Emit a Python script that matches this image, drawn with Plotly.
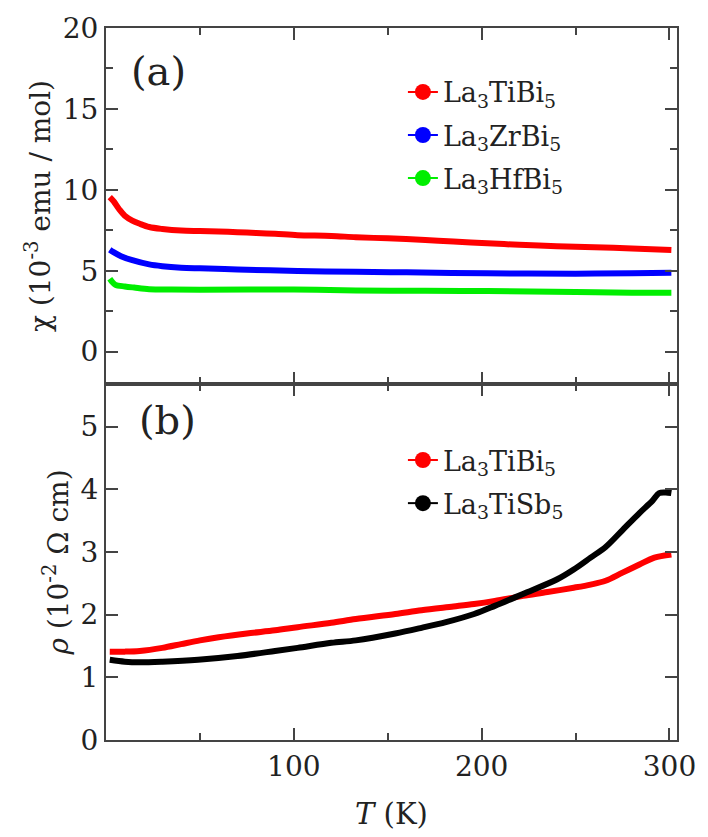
import plotly.graph_objects as go
from plotly.subplots import make_subplots

# ---- data ----
T_chi_Ti = [2, 4, 7, 10, 14, 18, 23, 30, 40, 50, 60, 70, 80, 90, 102, 120, 133, 150, 170, 185, 203, 220, 240, 260, 280, 301]
chi_Ti = [9.55, 9.3, 8.8, 8.4, 8.1, 7.9, 7.7, 7.58, 7.48, 7.45, 7.42, 7.38, 7.33, 7.28, 7.2, 7.15, 7.07, 7.0, 6.9, 6.8, 6.7, 6.6, 6.52, 6.45, 6.38, 6.28]

T_chi_Zr = [2, 4, 8, 14, 23, 30, 40, 50, 70, 102, 133, 160, 203, 250, 280, 301]
chi_Zr = [6.3, 6.15, 5.9, 5.65, 5.39, 5.28, 5.19, 5.15, 5.08, 4.98, 4.93, 4.9, 4.84, 4.82, 4.85, 4.88]

T_chi_Hf = [2, 3, 5, 10, 15, 23, 35, 50, 100, 133, 170, 203, 250, 280, 301]
chi_Hf = [4.5, 4.35, 4.13, 4.03, 3.96, 3.86, 3.84, 3.83, 3.84, 3.78, 3.76, 3.74, 3.68, 3.64, 3.64]

T_rho_Bi = [2, 10, 18, 30, 40, 50, 60, 75, 90, 102, 120, 133, 154, 168, 185, 196, 207, 222, 235, 249, 258, 266, 275, 284, 292, 301]
rho_Bi = [1.41, 1.41, 1.42, 1.47, 1.53, 1.59, 1.64, 1.70, 1.75, 1.80, 1.87, 1.93, 2.01, 2.07, 2.13, 2.17, 2.22, 2.30, 2.36, 2.43, 2.48, 2.54, 2.67, 2.80, 2.91, 2.96]

T_rho_Sb = [2, 10, 18, 30, 49, 70, 90, 102, 120, 133, 154, 168, 181, 196, 207, 222, 240, 249, 258, 266, 275, 284, 291, 294.5, 298, 301]
rho_Sb = [1.28, 1.25, 1.24, 1.25, 1.28, 1.34, 1.42, 1.47, 1.55, 1.59, 1.70, 1.79, 1.88, 2.01, 2.14, 2.33, 2.56, 2.72, 2.91, 3.08, 3.35, 3.62, 3.82, 3.94, 3.95, 3.94]

names_chi = ["La<sub>3</sub>TiBi<sub>5</sub>", "La<sub>3</sub>ZrBi<sub>5</sub>", "La<sub>3</sub>HfBi<sub>5</sub>"]
names_rho = ["La<sub>3</sub>TiBi<sub>5</sub>", "La<sub>3</sub>TiSb<sub>5</sub>"]
colors_chi = ["#ff0000", "#0000ff", "#00ee00"]
colors_rho = ["#ff0000", "#000000"]

FONT = "DejaVu Serif"
AX = "#444444"
TXT = "#222222"

fig = make_subplots(rows=2, cols=1, shared_xaxes=True, vertical_spacing=0)

for i, (T, v, n, c) in enumerate(zip([T_chi_Ti, T_chi_Zr, T_chi_Hf], [chi_Ti, chi_Zr, chi_Hf], names_chi, colors_chi)):
    fig.add_trace(go.Scatter(x=T, y=v, mode="lines", line=dict(color=c, width=6, shape="spline", smoothing=0.9),
                             showlegend=False), row=1, col=1)
    fig.add_trace(go.Scatter(x=[None], y=[None], mode="lines+markers", name=n, legendgroup=f"a{i}",
                             line=dict(color=c, width=2), marker=dict(color=c, size=16),
                             legend="legend"), row=1, col=1)

for i, (T, v, n, c) in enumerate(zip([T_rho_Bi, T_rho_Sb], [rho_Bi, rho_Sb], names_rho, colors_rho)):
    fig.add_trace(go.Scatter(x=T, y=v, mode="lines", line=dict(color=c, width=6, shape="spline", smoothing=0.9),
                             showlegend=False), row=2, col=1)
    fig.add_trace(go.Scatter(x=[None], y=[None], mode="lines+markers", name=n, legendgroup=f"b{i}",
                             line=dict(color=c, width=2), marker=dict(color=c, size=16),
                             legend="legend2"), row=2, col=1)

xcommon = dict(range=[0, 304], showline=True, linecolor=AX, linewidth=2, mirror="ticks",
               ticks="inside", ticklen=12, tickwidth=1.5, tickcolor=AX,
               tickvals=[100, 200, 300], showgrid=False, zeroline=False,
               minor=dict(tickvals=[50, 150, 250], ticks="inside", ticklen=7, tickcolor=AX, tickwidth=1.5),
               tickfont=dict(family=FONT, size=28, color=TXT))
fig.update_xaxes(**xcommon)
fig.update_xaxes(title=dict(text="<i>T</i> (K)", font=dict(family=FONT, size=29, color=TXT), standoff=22), row=2, col=1)

fig.update_yaxes(range=[-2, 20], tickvals=[0, 5, 10, 15, 20], showline=True, linecolor=AX, linewidth=2,
                 mirror="ticks", ticks="inside", ticklen=12, tickwidth=1.5, tickcolor=AX,
                 minor=dict(tickvals=[2.5, 7.5, 12.5, 17.5], ticks="inside", ticklen=7, tickcolor=AX, tickwidth=1.5),
                 showgrid=False, zeroline=False, tickfont=dict(family=FONT, size=28, color=TXT),
                 title=dict(text="χ (10<sup>-3</sup> emu / mol)", font=dict(family=FONT, size=28, color=TXT), standoff=4),
                 row=1, col=1)
fig.update_yaxes(range=[0, 5.68], tickvals=[0, 1, 2, 3, 4, 5], showline=True, linecolor=AX, linewidth=2,
                 mirror="ticks", ticks="inside", ticklen=12, tickwidth=1.5, tickcolor=AX,
                 showgrid=False, zeroline=False, tickfont=dict(family=FONT, size=28, color=TXT),
                 title=dict(text="<i>ρ</i> (10<sup>-2</sup> Ω cm)", font=dict(family=FONT, size=28, color=TXT), standoff=4),
                 row=2, col=1)

legfont = dict(family=FONT, size=27, color=TXT)
fig.update_layout(
    width=708, height=837,
    font=dict(family=FONT, color=TXT),
    margin=dict(l=106, r=23, t=19, b=94),
    paper_bgcolor="white", plot_bgcolor="white",
    legend=dict(x=0.52, y=0.944, xanchor="left", yanchor="top", bgcolor="rgba(0,0,0,0)",
                font=legfont, tracegroupgap=5),
    legend2=dict(x=0.52, y=0.427, xanchor="left", yanchor="top", bgcolor="rgba(0,0,0,0)",
                 font=legfont, tracegroupgap=5),
    annotations=[
        dict(text="(a)", x=0.092, y=0.94, xref="paper", yref="paper", xanchor="center", yanchor="middle",
             showarrow=False, font=dict(family=FONT, size=40, color=TXT)),
        dict(text="(b)", x=0.108, y=0.449, xref="paper", yref="paper", xanchor="center", yanchor="middle",
             showarrow=False, font=dict(family=FONT, size=40, color=TXT)),
    ],
)

fig.write_html("out.html")
